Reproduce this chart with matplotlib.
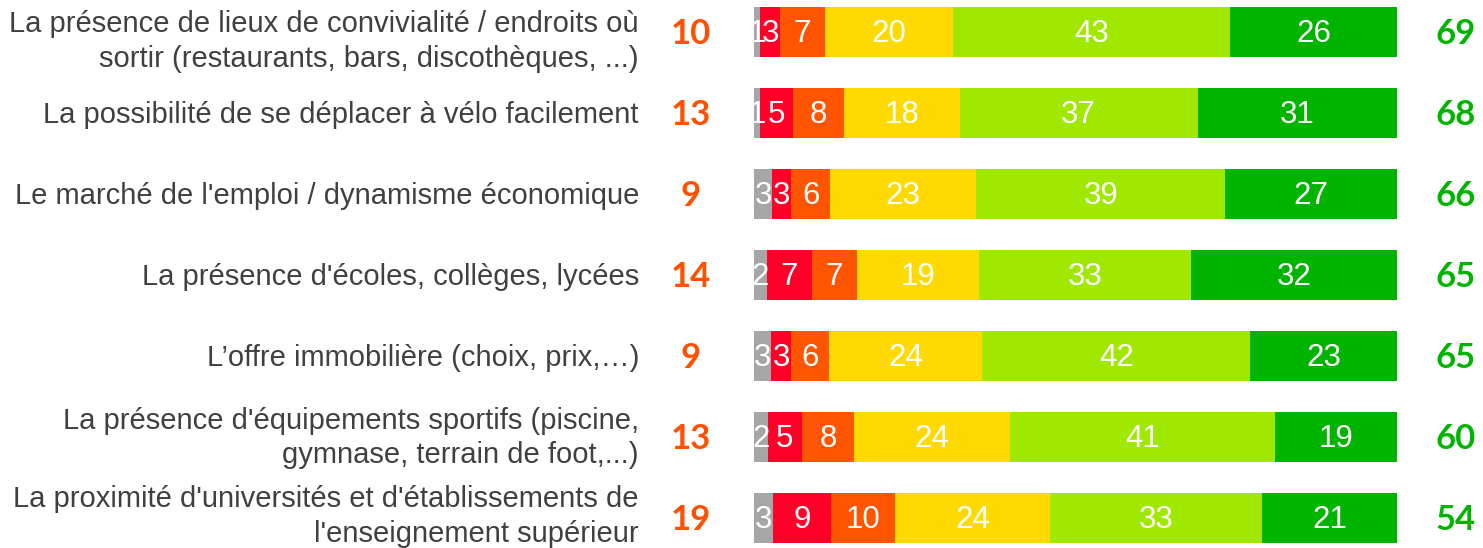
import numpy as np
import matplotlib.pyplot as plt

# ------------------------------
# Data
# ------------------------------
categories = [
    "La présence de lieux de convivialité / endroits où\nsortir (restaurants, bars, discothèques, ...)",
    "La possibilité de se déplacer à vélo facilement",
    "Le marché de l'emploi / dynamisme économique",
    "La présence d'écoles, collèges, lycées",
    "L’offre immobilière (choix, prix,…)",
    "La présence d'équipements sportifs (piscine,\ngymnase, terrain de foot,...)",
    "La proximité d'universités et d'établissements de\nl'enseignement supérieur",
]
nsp      = [1.0, 1.0, 2.8, 2.0, 2.7, 2.2, 3.0]
tres_neg = [3.0, 5.0, 3.0, 7.0, 3.0, 5.2, 9.0]
plut_neg = [7.0, 8.0, 6.0, 7.0, 6.0, 8.2, 10.0]
neutre   = [20.0, 18.0, 22.8, 19.0, 23.8, 24.2, 24.0]
plut_pos = [43.0, 37.0, 38.7, 33.0, 41.7, 41.2, 33.0]
tres_pos = [26.0, 31.0, 26.7, 32.0, 22.8, 19.0, 21.0]
total_neg = [10, 13, 9, 14, 9, 13, 19]
total_pos = [69, 68, 66, 65, 65, 60, 54]

series = [nsp, tres_neg, plut_neg, neutre, plut_pos, tres_pos]
colors = ['#A6A6A6', '#FF0029', '#FF5500', '#FFDA00', '#A0E800', '#00B400']

# small vertical nudges of the category labels (first/last rows sit off-centre)
label_shift = [0.1, 0.0, 0.0, 0.0, 0.0, -0.01, -0.04]

# ------------------------------
# Plot
# ------------------------------
fig = plt.figure(figsize=(14.83, 5.48), dpi=100)
ax = fig.add_axes([754 / 1483, 0, 643 / 1483, 1])

y = np.arange(len(categories))
left = np.zeros(len(categories))
for vals, col in zip(series, colors):
    vals = np.array(vals)
    ax.barh(y, vals, left=left, height=0.62, color=col, edgecolor='none')
    for yi, l, v in zip(y, left, vals):
        ax.text(l + v / 2, yi + 0.02, f'{v:.0f}', ha='center', va='center',
                color='white', fontsize=22.5, family='Liberation Sans')
    left += vals

ax.set_xlim(0, 100)
ax.set_ylim((548 - 32) / 81, -32 / 81)
ax.axis('off')

for yi, cat, n, p, s in zip(y, categories, total_neg, total_pos, label_shift):
    ax.text(-17.9, yi + 0.02 + s, cat, ha='right', va='center', color='#404040',
            fontsize=21, family='Liberation Sans', linespacing=1.3)
    ax.text(-9.9, yi + 0.03, str(n), ha='center', va='center', color='#FF5000',
            fontsize=25, fontweight='bold', family='Lato')
    ax.text(109.1, yi + 0.03, str(p), ha='center', va='center', color='#00B400',
            fontsize=25, fontweight='bold', family='Lato')

fig.savefig('out.png', dpi=100)
